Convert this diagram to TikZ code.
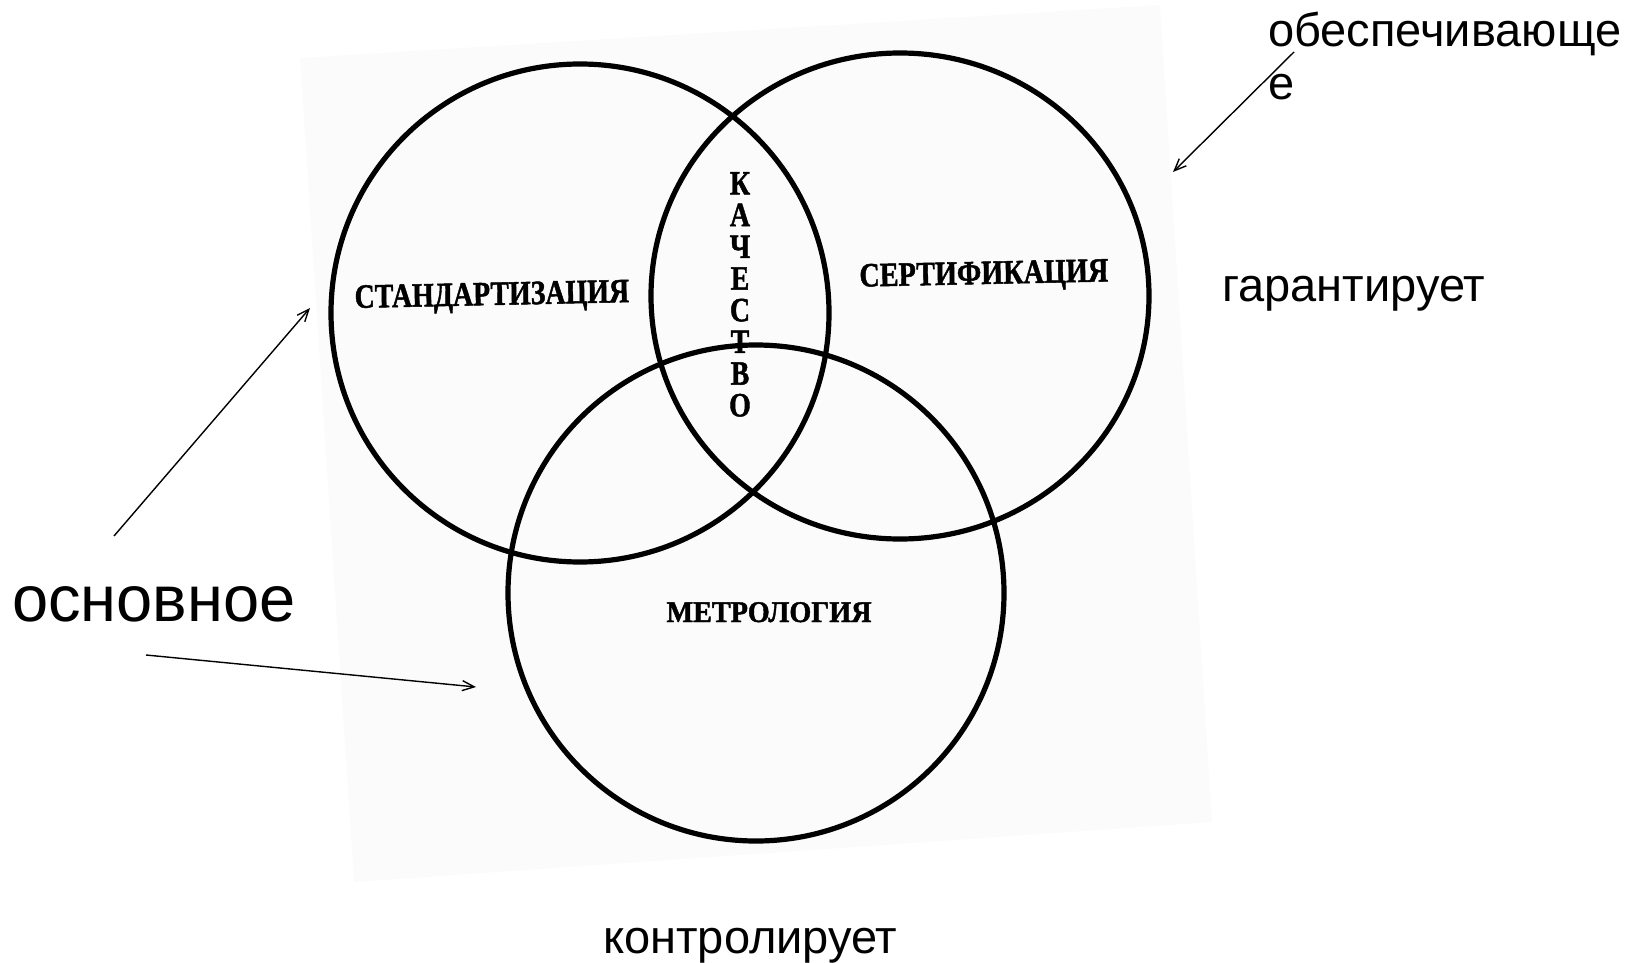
\documentclass[tikz,border=0pt]{standalone}
\usepackage{fontspec}
\setmainfont{Liberation Serif}
\newfontfamily\heavy{Liberation Serif}[BoldFeatures={FakeBold=1.5}]
\newfontfamily\annot{Liberation Sans}
\usetikzlibrary{arrows.meta,shapes.geometric}
\begin{document}
\begin{tikzpicture}[x=1pt,y=-1pt,
  ring/.style={draw, circle, line width=5.2pt, inner sep=0pt, minimum size=#1},
  oval/.style={draw, ellipse, line width=5.2pt, inner sep=0pt},
  lbl/.style={font=\heavy\bfseries\fontsize{34}{34}\selectfont, inner sep=0pt, anchor=base},
  note/.style={font=\annot\fontsize{47}{53}\selectfont, inner sep=0pt, anchor=base west, align=left},
  ptr/.style={line width=1.4pt, -{Straight Barb[length=12pt,width=10pt]}}
]
\useasboundingbox (0,0) rectangle (1631,963);
\fill[gray!3] (300,58) -- (1160,5) -- (1212,822) -- (354,882) -- cycle;

\node[ring=498pt] (S) at (580,313) {};
\node[oval, minimum width=498pt, minimum height=486pt] (C) at (900,296) {};
\node[ring=496pt] (M) at (756,593) {};

\node[lbl, xscale=0.82, rotate=1] (st) at (492,305) {СТАНДАРТИЗАЦИЯ};
\node[lbl, xscale=0.83, rotate=1] (sr) at (984,284) {СЕРТИФИКАЦИЯ};
\node[lbl, font=\heavy\bfseries\fontsize{30}{30}\selectfont, xscale=0.94] (mt) at (769,622) {МЕТРОЛОГИЯ};
\node[font=\heavy\bfseries\fontsize{34}{31.7}\selectfont, xscale=0.82, inner sep=0pt, align=center, anchor=north] (kq) at (740,172) {К\\А\\Ч\\Е\\С\\Т\\В\\О};

\node[note] (ob) at (1268,100) {обеспечивающе\\е};
\node[note] (ga) at (1222,301) {гарантирует};
\node[note, font=\annot\fontsize{65}{65}\selectfont] (os) at (12,621) {основное};
\node[note] (ko) at (603,953) {контролирует};

\coordinate (a1s) at (1294,52);
\coordinate (a1e) at (1173,172);
\coordinate (a2s) at (114,536);
\coordinate (a2e) at (310,308);
\coordinate (a3s) at (146,655);
\coordinate (a3e) at (476,687);
\draw[ptr] (a1s) -- (a1e);
\draw[ptr] (a2s) -- (a2e);
\draw[ptr] (a3s) -- (a3e);
\end{tikzpicture}
\end{document}
